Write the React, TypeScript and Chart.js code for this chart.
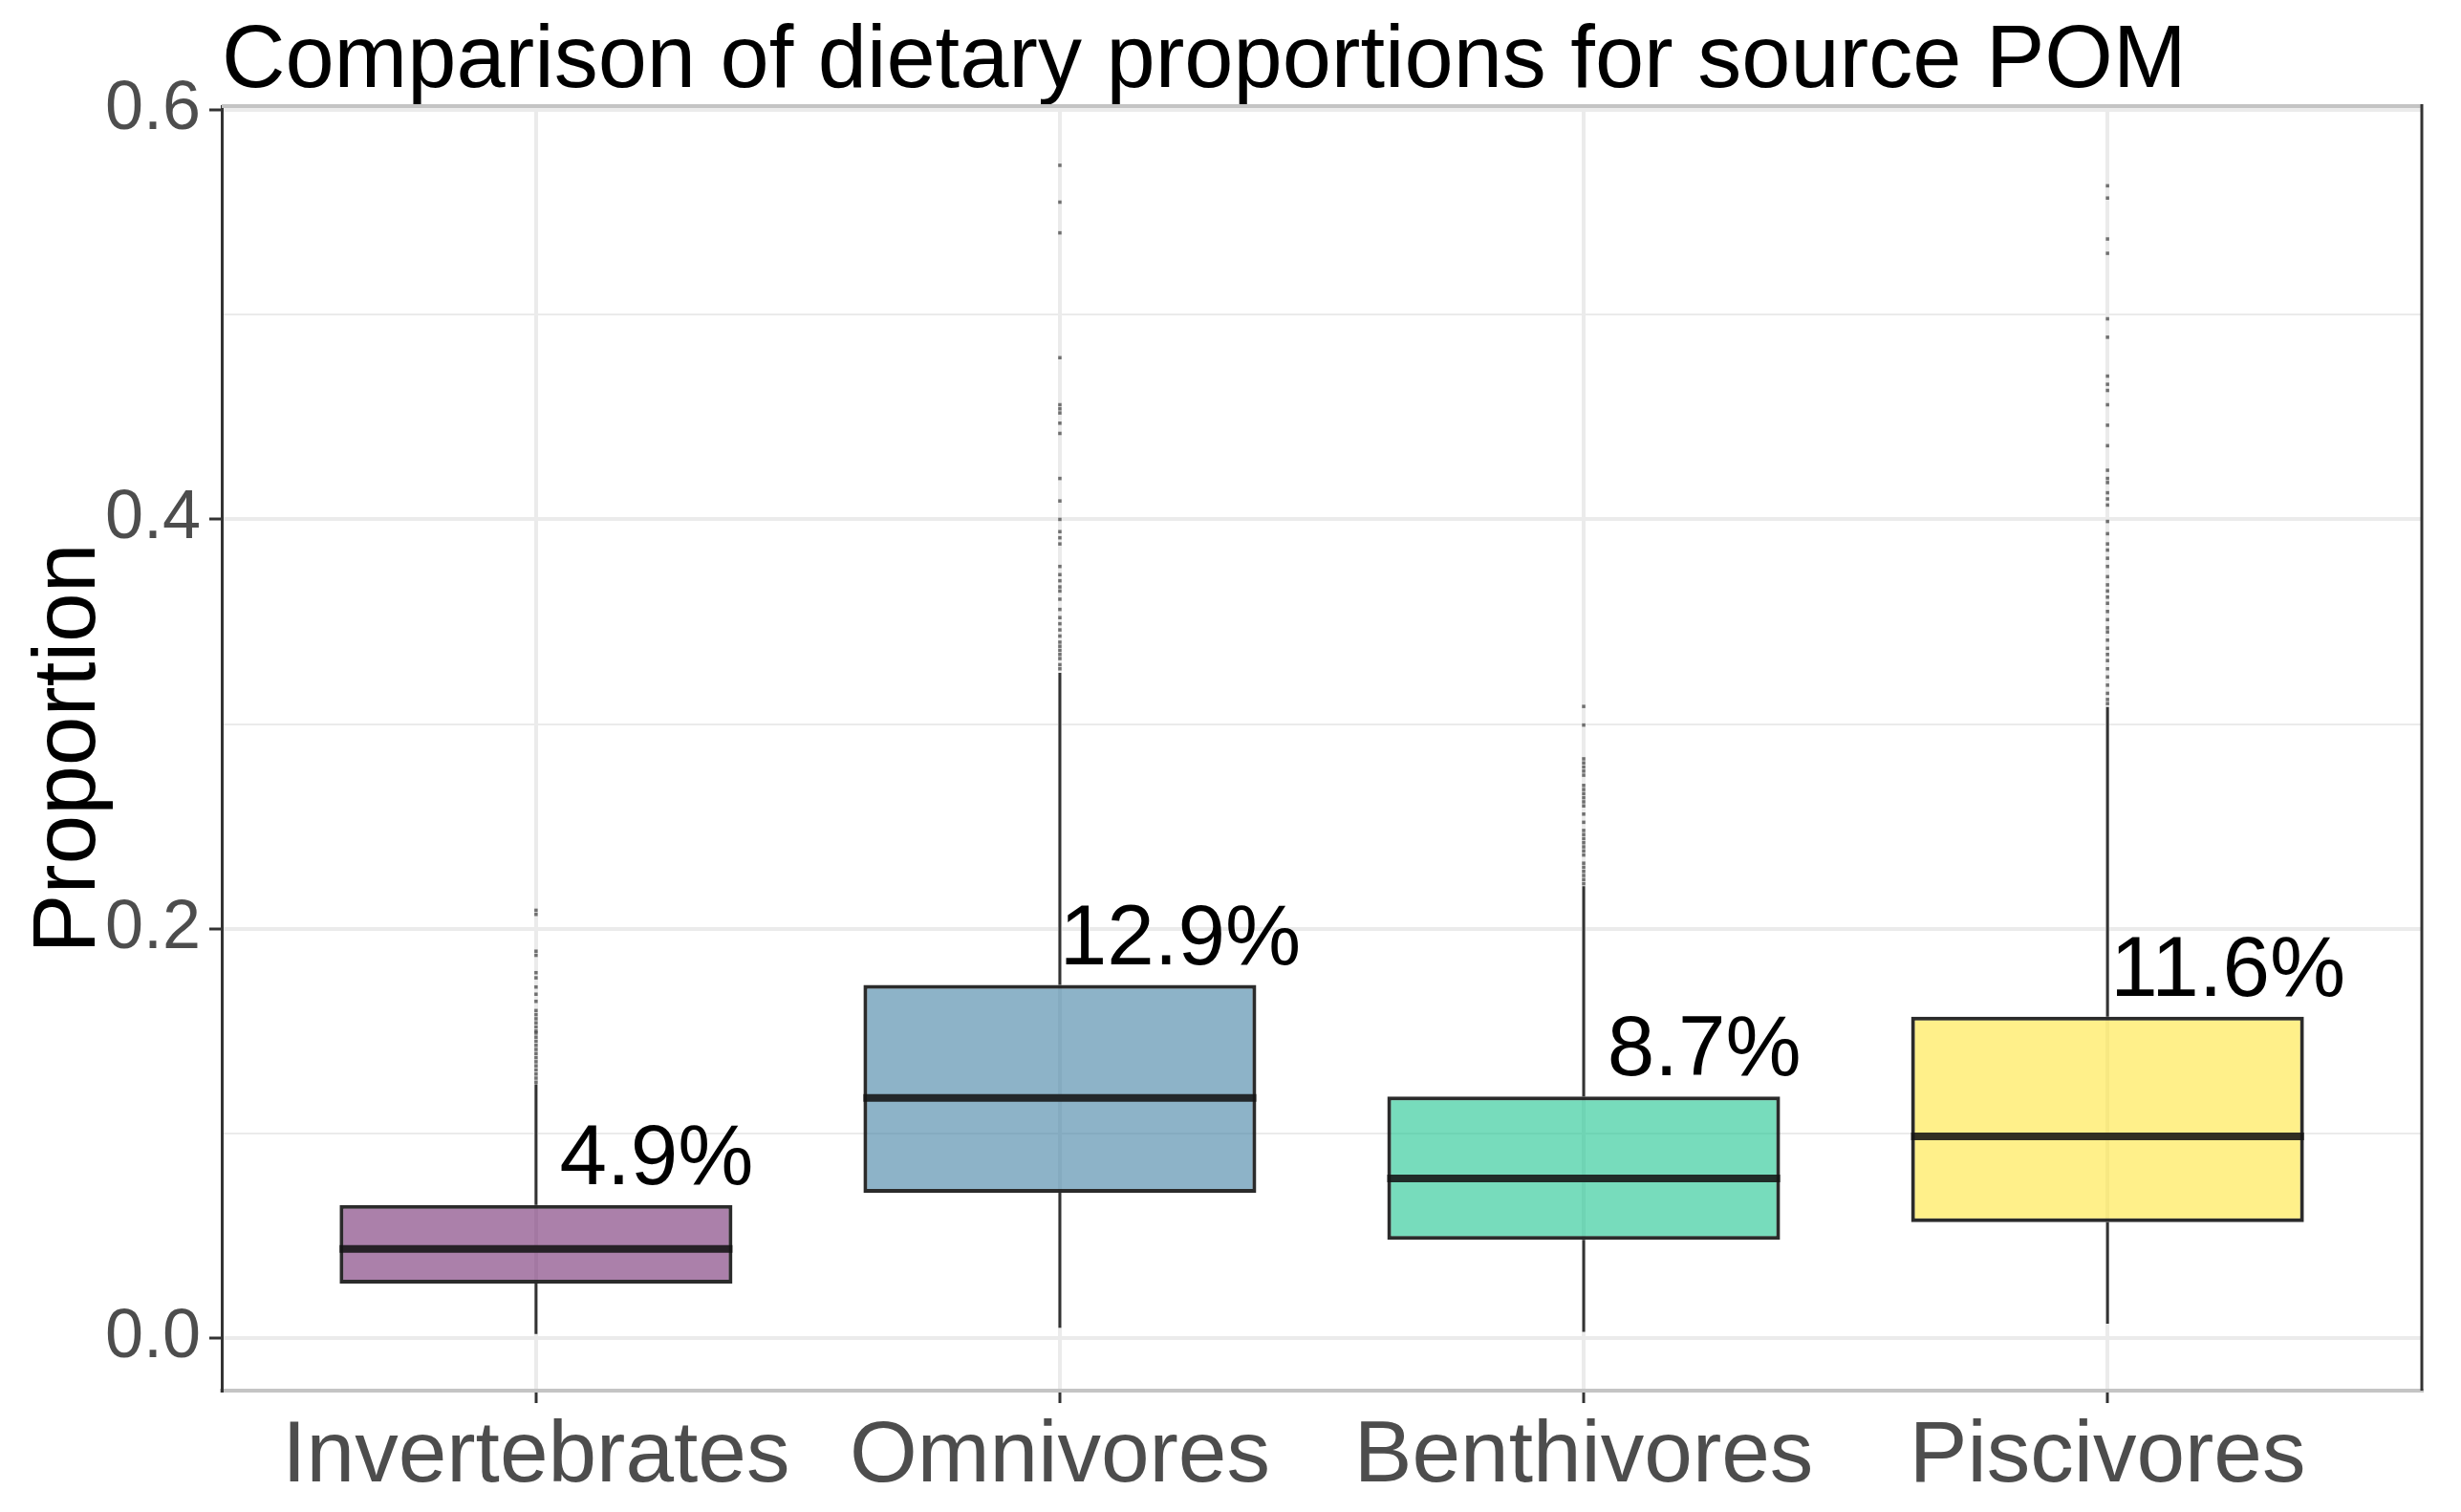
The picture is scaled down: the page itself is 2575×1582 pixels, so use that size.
import React, { useEffect, useRef } from "react";
import { Chart, registerables } from "chart.js";

Chart.register(...registerables);

// ---------- data ----------
const categories = ["Invertebrates", "Omnivores", "Benthivores", "Piscivores"];
const lowerWhisker = [0.002, 0.005, 0.003, 0.007];
const q1 = [0.0266, 0.071, 0.048, 0.0566];
const median = [0.0435, 0.1173, 0.078, 0.0985];
const q3 = [0.065, 0.1725, 0.118, 0.157];
const upperWhisker = [0.124, 0.325, 0.2207, 0.3083];
const pctLabels = ["4.9%", "12.9%", "8.7%", "11.6%"];

const outInvertebrates = [
  0.209, 0.207, 0.189, 0.187, 0.1785, 0.176, 0.1715, 0.168, 0.1645, 0.16, 0.158,
  0.156, 0.154, 0.152, 0.15, 0.149, 0.147, 0.145, 0.143, 0.141, 0.139, 0.137,
  0.135, 0.133, 0.131, 0.129, 0.127, 0.125,
];
const outOmnivores = [
  0.573, 0.555, 0.54, 0.479, 0.456, 0.454, 0.452, 0.447, 0.442, 0.42, 0.409, 0.4,
  0.394, 0.391, 0.388, 0.377, 0.373, 0.37, 0.367, 0.365, 0.361, 0.356, 0.352,
  0.349, 0.346, 0.343, 0.34, 0.338, 0.336, 0.334, 0.332, 0.329, 0.327,
];
const outBenthivores = [
  0.3086, 0.2995, 0.283, 0.281, 0.279, 0.277, 0.275, 0.27, 0.268, 0.266, 0.264,
  0.262, 0.26, 0.256, 0.252, 0.248, 0.246, 0.244, 0.242, 0.24, 0.238, 0.236,
  0.232, 0.23, 0.228, 0.226, 0.224, 0.222,
];
const outPiscivores = [
  0.563, 0.557, 0.537, 0.53, 0.498, 0.489, 0.47, 0.466, 0.463, 0.456, 0.446,
  0.436, 0.424, 0.42, 0.418, 0.413, 0.41, 0.407, 0.399, 0.393, 0.388, 0.385,
  0.381, 0.377, 0.372, 0.368, 0.365, 0.362, 0.359, 0.355, 0.351, 0.347, 0.345,
  0.341, 0.337, 0.334, 0.331, 0.327, 0.323, 0.319, 0.315, 0.312, 0.31,
];
const outliers = [outInvertebrates, outOmnivores, outBenthivores, outPiscivores];

const yMajorTicks = [0, 0.2, 0.4, 0.6];
const yMinorTicks = [0.1, 0.3, 0.5];
const yMin = -0.0257;
const yMax = 0.6019;
const xMin = 0.4;
const xMax = 4.6;

// ---------- styles ----------
const BOX_WIDTH = 0.75;
const LABEL_NUDGE = 0.23;
const FONT = "'Liberation Sans', Arial, Helvetica, sans-serif";
const boxFills = [
  "rgba(115,43,113,0.6)",
  "rgba(65,128,163,0.6)",
  "rgba(28,197,143,0.6)",
  "rgba(255,230,60,0.6)",
];

const W = 2575;
const H = 1582;

export default function App() {
  const ref = useRef<HTMLCanvasElement | null>(null);

  useEffect(() => {
    if (!ref.current) return;
    const xs = categories.map((_, i) => i + 1);

    const whiskerData: any[] = [];
    xs.forEach((x, i) => {
      whiskerData.push({ x, y: lowerWhisker[i] }, { x, y: q1[i] }, { x, y: null });
      whiskerData.push({ x, y: q3[i] }, { x, y: upperWhisker[i] }, { x, y: null });
    });
    const medianData: any[] = [];
    xs.forEach((x, i) => {
      medianData.push(
        { x: x - BOX_WIDTH / 2, y: median[i] },
        { x: x + BOX_WIDTH / 2, y: median[i] },
        { x: x + BOX_WIDTH / 2, y: null }
      );
    });
    const outlierData: any[] = [];
    outliers.forEach((arr, i) => arr.forEach((v) => outlierData.push({ x: xs[i], y: v })));

    const isMajor = (v: number) => yMajorTicks.some((t) => Math.abs(t - v) < 1e-9);

    const panelBorder = {
      id: "panelBorder",
      afterDraw(chart: any) {
        const { ctx, chartArea } = chart;
        ctx.save();
        ctx.lineCap = "butt";
        ctx.strokeStyle = "#c4c4c4";
        ctx.lineWidth = 4;
        ctx.beginPath();
        ctx.moveTo(chartArea.left, chartArea.top);
        ctx.lineTo(chartArea.right, chartArea.top);
        ctx.stroke();
        ctx.strokeStyle = "#333333";
        ctx.lineWidth = 3;
        ctx.beginPath();
        ctx.moveTo(chartArea.right, chartArea.top - 2);
        ctx.lineTo(chartArea.right, chartArea.bottom);
        ctx.stroke();
        ctx.restore();
      },
    };

    const pctLabelPlugin = {
      id: "pctLabels",
      afterDatasetsDraw(chart: any) {
        const { ctx, scales } = chart;
        ctx.save();
        ctx.fillStyle = "#000000";
        ctx.font = `89px ${FONT}`;
        ctx.textAlign = "center";
        ctx.textBaseline = "alphabetic";
        pctLabels.forEach((lab, i) => {
          const x = scales.x.getPixelForValue(xs[i] + LABEL_NUDGE);
          const y = scales.y.getPixelForValue(q3[i]) - 22;
          ctx.fillText(lab, x, y);
        });
        ctx.restore();
      },
    };

    const chart = new Chart(ref.current, {
      type: "bar",
      data: {
        datasets: [
          {
            type: "bar",
            label: "box",
            data: xs.map((x, i) => ({ x, y: [q1[i], q3[i]] })) as any,
            backgroundColor: boxFills,
            borderColor: "rgba(20,20,20,0.9)",
            borderWidth: 4,
            borderSkipped: false,
            barPercentage: BOX_WIDTH,
            categoryPercentage: 1,
            grouped: false,
            order: 3,
          } as any,
          {
            type: "line",
            label: "whiskers",
            data: whiskerData,
            borderColor: "#333333",
            borderWidth: 3,
            pointRadius: 0,
            spanGaps: false,
            order: 2,
          } as any,
          {
            type: "line",
            label: "median",
            data: medianData,
            borderColor: "rgba(20,20,20,0.88)",
            borderWidth: 8,
            borderCapStyle: "butt",
            pointRadius: 0,
            spanGaps: false,
            order: 1,
          } as any,
          {
            type: "scatter",
            label: "outliers",
            data: outlierData,
            pointStyle: "rect",
            pointRadius: 2.5,
            backgroundColor: "rgba(60,60,60,0.7)",
            borderWidth: 0,
            order: 4,
          } as any,
        ],
      },
      options: {
        responsive: false,
        animation: false,
        devicePixelRatio: 1,
        events: [],
        layout: { padding: { left: 0, right: 41, top: 0, bottom: 0 } },
        plugins: {
          legend: { display: false },
          tooltip: { enabled: false },
          title: {
            display: true,
            text: "Comparison of dietary proportions for source POM",
            align: "start",
            fullSize: false,
            color: "#000000",
            font: { family: FONT, size: 92, weight: "normal", lineHeight: 0.99 },
            padding: { top: 20, bottom: 0 },
          },
        },
        scales: {
          x: {
            type: "linear",
            min: xMin,
            max: xMax,
            offset: false,
            afterBuildTicks: (axis: any) => {
              axis.ticks = xs.map((v) => ({ value: v }));
            },
            afterFit: (s: any) => {
              s.height = H - 1455;
            },
            ticks: {
              callback: (v: any) => categories[Math.round(Number(v)) - 1] ?? "",
              color: "#4d4d4d",
              font: { family: FONT, size: 91 },
              padding: 2,
              maxRotation: 0,
              autoSkip: false,
            },
            grid: {
              offset: false,
              color: "#ebebeb",
              lineWidth: 4,
              tickColor: "#333333",
              tickLength: 13,
              tickWidth: 3,
            },
            border: { display: true, color: "#c4c4c4", width: 4 },
          },
          y: {
            type: "linear",
            min: yMin,
            max: yMax,
            afterBuildTicks: (axis: any) => {
              axis.ticks = [...yMajorTicks, ...yMinorTicks]
                .sort((a, b) => a - b)
                .map((v) => ({ value: v }));
            },
            afterFit: (s: any) => {
              s.width = 232;
            },
            ticks: {
              callback: (v: any) => (isMajor(Number(v)) ? Number(v).toFixed(1) : ""),
              color: "#4d4d4d",
              font: { family: FONT, size: 72 },
              padding: 9,
              autoSkip: false,
            },
            grid: {
              color: "#ebebeb",
              lineWidth: (c: any) => (c.tick && isMajor(c.tick.value) ? 4 : 2),
              tickColor: (c: any) =>
                c.tick && isMajor(c.tick.value) ? "#333333" : "rgba(0,0,0,0)",
              tickLength: 13,
              tickWidth: 3,
            },
            border: { display: true, color: "#333333", width: 3 },
            title: {
              display: true,
              text: "Proportion",
              color: "#000000",
              font: { family: FONT, size: 93 },
              padding: { top: 18, bottom: 0 },
            },
          },
        },
      } as any,
      plugins: [panelBorder, pctLabelPlugin],
    });

    return () => chart.destroy();
  }, []);

  return (
    <div style={{ position: "absolute", left: 0, top: 0, width: W, height: H, background: "#ffffff" }}>
      <canvas ref={ref} width={W} height={H} style={{ width: W, height: H, display: "block" }} />
    </div>
  );
}
